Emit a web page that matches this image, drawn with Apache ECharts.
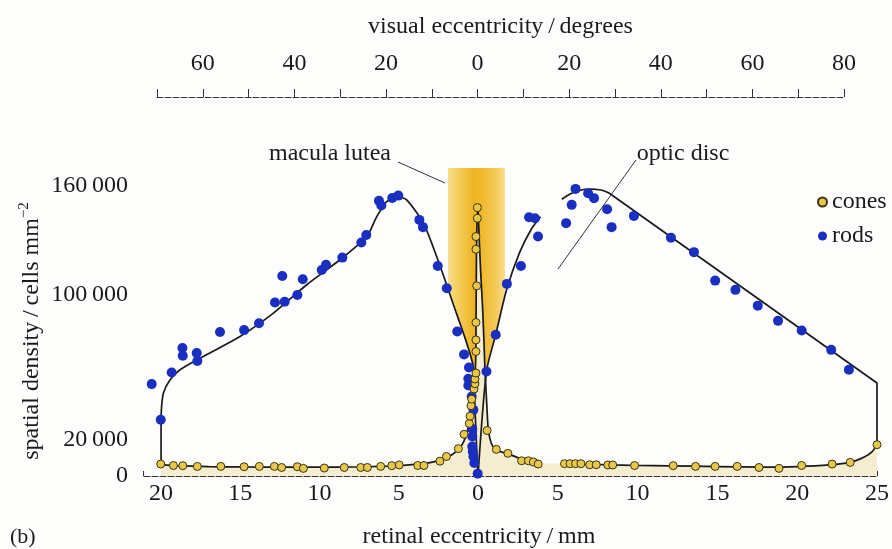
<!DOCTYPE html>
<html><head><meta charset="utf-8">
<script src="https://cdn.jsdelivr.net/npm/echarts@6/dist/echarts.min.js"></script>
<style>html,body{margin:0;padding:0;background:#fdfdfc}#c{width:892px;height:549px}</style>
</head><body><div id="c"></div>
<script>
// ---------------- data (mm from fovea, cells per mm^2) ----------------
// temporal side (left half of the figure)
const temporalRodDots = [[20.59,50700],[20.02,31000],[19.33,57100],[18.65,70600],[18.63,66300],[17.75,67800],[17.71,63400],[16.28,79400],[14.76,80500],[13.82,84300],[12.81,95700],[12.35,110300],[12.20,96100],[11.40,99900],[11.06,108600],[9.86,113700],[9.59,116500],[8.56,120500],[7.36,128800],[7.05,133000],[6.25,151800],[6.10,149200],[5.41,153400],[5.03,154700],[3.70,141300],[3.47,137300],[2.54,115900],[1.97,103600],[1.31,79700],[0.88,67100],[0.57,59900],[0.61,53600],[0.61,49900],[0.40,43900],[0.29,36500],[0.36,26000],[0.36,21800],[0.36,16300],[0.33,13500],[0.29,10800],[0.23,7200],[0.02,1300]];
const temporalConeDots = [[20.02,6600],[19.22,5800],[18.63,5700],[17.71,5300],[16.23,5300],[14.76,5100],[13.80,5300],[12.85,5300],[12.39,4700],[11.40,5100],[11.02,4200],[9.70,4400],[8.44,4700],[7.40,4700],[6.98,4700],[6.14,5300],[5.44,5700],[4.97,6100],[3.80,5800],[3.41,5800],[2.40,8200],[1.99,10800],[1.24,15100],[0.88,23000],[0.55,29000],[0.50,33000],[0.44,38800],[0.40,42400],[0.25,48000],[0.19,50900],[0.19,53500],[0.13,56800],[0.13,68700],[0.13,75100],[0.13,84700],[0.08,104900],[0.13,125100],[0.13,132100],[0.04,142200],[0.04,148100]];
const temporalRodCurve = [[20,6300],[20,30000],[19.97,38000],[19.85,45800],[19.43,53100],[18.8,58600],[17.54,65000],[15.02,77000],[12.91,89900],[10.81,105500],[8.71,119300],[7.02,132100],[6.39,143100],[5.76,151400],[5.03,154100],[4.5,152300],[3.45,139500],[2.61,121100],[1.66,97200],[0.3,60400],[0.2,40000],[0.1,18000],[0,0]];
const temporalConeCurve = [[20,6300],[19,5700],[17,5200],[15,5000],[12,4900],[9,4900],[7,5100],[5.5,5500],[4.5,6000],[3.5,6800],[2.8,7800],[2.2,9300],[1.6,12000],[1.2,15000],[0.9,19000],[0.7,24000],[0.55,30000],[0.42,38000],[0.3,46000],[0.2,55000],[0.14,65000],[0.12,90000],[0.1,120000],[0.06,140000],[0,148500]];
// nasal side (right half of the figure)
const nasalRodDots = [[0.53,57700],[1.11,77900],[1.81,106000],[2.69,115900],[3.20,142800],[3.57,142200],[3.76,132100],[5.52,139500],[5.87,149600],[6.11,158400],[6.38,162100],[6.90,156000],[7.27,153300],[8.09,147200],[8.37,137300],[9.77,143500],[12.09,131500],[13.53,123500],[14.86,107800],[16.13,102700],[17.53,94000],[18.80,85600],[20.28,80300],[22.13,69600],[23.24,58600]];
const nasalConeDots = [[0.57,25100],[1.15,14700],[1.87,12500],[2.73,8400],[3.16,8400],[3.47,7700],[3.77,6600],[5.42,6800],[5.77,6800],[6.11,6800],[6.45,6800],[7.00,6200],[7.41,6200],[8.13,6100],[8.44,6100],[9.81,5800],[12.23,5700],[13.63,5300],[14.86,5300],[16.24,5300],[17.61,4700],[18.86,4200],[20.28,5800],[22.19,6600],[23.32,7500],[25.0,17300]];
const nasalRodCurveFovea = [[0,0],[0.53,57700],[1.11,78000],[1.79,102700],[2.59,123000],[3.33,136000],[3.92,143000]];
const nasalRodCurveOuter = [[5.25,152700],[5.6,154800],[5.87,156000],[6.3,157400],[6.69,158200],[7.2,158300],[7.72,157800],[8.0,157000],[8.23,156000],[25,51300],[25,17300]];
const nasalConeCurve = [[0,148500],[0.08,130000],[0.17,112000],[0.28,94000],[0.37,75000],[0.43,60000],[0.5,48000],[0.57,36000],[0.63,27000],[0.75,20500],[0.94,16300],[1.35,13600],[1.9,12200],[2.6,9800],[3.2,8200],[3.8,7000],[4.5,null],[5.3,6800],[6.5,6600],[8,6200],[10,5800],[12,5600],[15,5200],[18,4900],[20,5200],[22,6100],[23.3,7500],[24.2,10500],[24.7,13500],[25,17300]];
const nasalConeFill = [[0,148500],[0.08,130000],[0.17,112000],[0.28,94000],[0.37,75000],[0.43,60000],[0.5,48000],[0.57,36000],[0.63,27000],[0.75,20500],[0.94,16300],[1.35,13600],[1.9,12200],[2.6,9800],[3.2,8200],[3.8,7000],[5.3,6800],[6.5,6600],[8,6200],[10,5800],[12,5600],[15,5200],[18,4900],[20,5200],[22,6100],[23.3,7500],[24.2,10500],[24.7,13500],[25,17300]];
// macula lutea band: temporal extent, nasal extent (negative = nasal on temporal axis), density range drawn
const maculaBand = [[1.89, -1.70, 0, 170000]];
// tick labels
const densityTickLabels = {0:'0', 20000:'20\u2009000', 100000:'100\u2009000', 160000:'160\u2009000'};

// ---------------- chart ----------------
const FONT = '"Liberation Serif","Times New Roman",serif';
const BG = '#fdfdfc';
const INK = '#1a1a1a';
const PALE = '#f4edcf';
const ROD = '#1a2fc2';
const CONE = '#e7c84a';
const axisLine = {show:true, lineStyle:{color:'#333', width:1, type:[6,2]}};
const chart = echarts.init(document.getElementById('c'), null, {renderer:'canvas'});

function curveLine(data, xi, z, smooth){
  return {type:'line', xAxisIndex:xi, yAxisIndex:xi, data:data, symbol:'none', smooth:smooth, z:z,
    lineStyle:{color:INK, width:1.7}, silent:true, animation:false, connectNulls:false};
}
function curveArea(data, xi, z, color, smooth){
  return {type:'line', xAxisIndex:xi, yAxisIndex:xi, data:data, symbol:'none', smooth:smooth, z:z,
    lineStyle:{width:0, opacity:0}, areaStyle:{color:color, opacity:1}, silent:true, animation:false};
}
function dots(name, data, xi, color, size, border){
  return {type:'scatter', name:name, xAxisIndex:xi, yAxisIndex:xi, data:data, symbolSize:size, z:5,
    itemStyle:{color:color, borderColor:border?'#3b3212':color, borderWidth:border?1:0, opacity:1}, animation:false, silent:true};
}

const option = {
  backgroundColor: BG,
  animation:false,
  textStyle:{fontFamily:FONT},
  grid:[
    {left:143, top:186, width:335, height:290},
    {left:478, top:186, width:406, height:290},
    {left:157, top:96, width:687, height:1}
  ],
  xAxis:[
    {gridIndex:0, type:'value', inverse:true, min:0, max:21.14, interval:5,
     axisLine:axisLine, axisTick:{show:true, inside:true, length:5, lineStyle:{color:'#333'}},
     splitLine:{show:false},
     axisLabel:{margin:6, fontSize:24, color:INK, fontFamily:FONT, formatter:v=> (Math.abs(v%5)<1e-9 ? String(v) : '')}},
    {gridIndex:1, type:'value', min:0, max:25, interval:5,
     axisLine:axisLine, axisTick:{show:true, inside:true, length:5, lineStyle:{color:'#333'}},
     splitLine:{show:false},
     axisLabel:{margin:6, fontSize:24, color:INK, fontFamily:FONT, formatter:v=> (v===0 ? '' : String(v))}},
    {gridIndex:2, type:'value', position:'top', min:-70, max:80, interval:10,
     axisLine:axisLine, axisTick:{show:true, inside:false, length:8, lineStyle:{color:'#333'}},
     splitLine:{show:false},
     axisLabel:{margin:20, fontSize:24, color:INK, fontFamily:FONT, formatter:v=> (v%20===0 ? String(Math.abs(v)) : '')},
     name:'visual eccentricity\u2009/\u2009degrees', nameLocation:'middle', nameGap:57,
     nameTextStyle:{fontSize:24, color:INK, fontFamily:FONT}}
  ],
  yAxis:[
    {gridIndex:0, type:'value', min:0, max:160000, interval:20000,
     axisLine:axisLine, axisTick:{show:true, inside:true, length:5, lineStyle:{color:'#333'}},
     splitLine:{show:false},
     axisLabel:{margin:15, fontSize:24, color:INK, fontFamily:FONT, formatter:v=> (densityTickLabels[v] !== undefined ? densityTickLabels[v] : '')},
     name:'{a|spatial density\u2009/\u2009cells mm}{b|\u22122}', nameLocation:'middle', nameGap:96, nameRotate:90,
     nameTextStyle:{rich:{a:{fontSize:24, fontFamily:FONT, color:INK, lineHeight:30}, b:{fontSize:15, fontFamily:FONT, color:INK, verticalAlign:'top', lineHeight:30, padding:[0,0,12,0]}}}},
    {gridIndex:1, type:'value', min:0, max:160000, interval:20000, show:false},
    {gridIndex:2, type:'value', show:false}
  ],
  legend:{orient:'vertical', left:812, top:185, itemWidth:9, itemHeight:9, itemGap:10, icon:'circle',
    textStyle:{fontSize:24, fontFamily:FONT, color:INK}, data:['cones','rods'], selectedMode:false},
  graphic:[
    {type:'text', x:330, y:154, style:{text:'macula lutea', fontSize:24, fontFamily:FONT, fill:INK, align:'center', verticalAlign:'middle', textAlign:'center', textVerticalAlign:'middle'}},
    {type:'text', x:683, y:154, style:{text:'optic disc', fontSize:24, fontFamily:FONT, fill:INK, align:'center', verticalAlign:'middle', textAlign:'center', textVerticalAlign:'middle'}},
    {type:'line', shape:{x1:398, y1:162, x2:445, y2:183}, style:{stroke:'#333', lineWidth:1}, z:10},
    {type:'line', shape:{x1:636, y1:160, x2:558, y2:269}, style:{stroke:'#333', lineWidth:1}, z:10},
    {type:'text', x:323, y:402, style:{text:'TEMPORAL', fontSize:19, fontFamily:FONT, fill:INK, align:'center', verticalAlign:'middle', textAlign:'center', textVerticalAlign:'middle'}},
    {type:'text', x:652, y:403, style:{text:'NASAL', fontSize:19, fontFamily:FONT, fill:INK, align:'center', verticalAlign:'middle', textAlign:'center', textVerticalAlign:'middle'}},
    {type:'text', x:479, y:537, style:{text:'retinal eccentricity\u2009/\u2009mm', fontSize:24, fontFamily:FONT, fill:INK, align:'center', verticalAlign:'middle', textAlign:'center', textVerticalAlign:'middle'}},
    {type:'text', x:10, y:537, style:{text:'(b)', fontSize:22, fontFamily:FONT, fill:INK, align:'left', verticalAlign:'middle', textAlign:'left', textVerticalAlign:'middle'}}
  ],
  series:[
    {type:'custom', xAxisIndex:0, yAxisIndex:0, data:maculaBand, z:1, silent:true, clip:false,
     encode:{x:[0,1], y:[2,3]},
     renderItem:function(params, api){
       const p0 = api.coord([api.value(0), api.value(2)]);
       const p1 = api.coord([api.value(1), api.value(3)]);
       return {type:'rect',
         shape:{x:Math.min(p0[0],p1[0]), y:Math.min(p0[1],p1[1]), width:Math.abs(p1[0]-p0[0]), height:Math.abs(p1[1]-p0[1])},
         style:{fill:new echarts.graphic.LinearGradient(0,0,1,0,[
           {offset:0, color:'#f8df8c'},{offset:0.2, color:'#f4cc58'},{offset:0.45, color:'#efb424'},
           {offset:0.6, color:'#f0b92c'},{offset:0.85, color:'#f4cb5c'},{offset:1, color:'#f8de8c'}])}};
     }},
    curveArea(temporalRodCurve, 0, 2, BG, 0.25),
    curveArea(nasalRodCurveFovea, 1, 2, BG, 0.25),
    curveArea(nasalRodCurveOuter, 1, 2, BG, false),
    curveArea(temporalConeCurve, 0, 3, PALE, 0.2),
    curveArea(nasalConeFill, 1, 3, PALE, 0.2),
    curveLine(temporalRodCurve, 0, 4, 0.25),
    curveLine(nasalRodCurveFovea, 1, 4, 0.25),
    curveLine(nasalRodCurveOuter, 1, 4, false),
    curveLine(temporalConeCurve, 0, 4, 0.2),
    curveLine(nasalConeCurve, 1, 4, 0.2),
    dots('rods', temporalRodDots, 0, ROD, 10, false),
    dots('rods', nasalRodDots, 1, ROD, 10, false),
    dots('cones', temporalConeDots, 0, CONE, 8, true),
    dots('cones', nasalConeDots, 1, CONE, 8, true)
  ]
};
chart.setOption(option);
</script></body></html>
